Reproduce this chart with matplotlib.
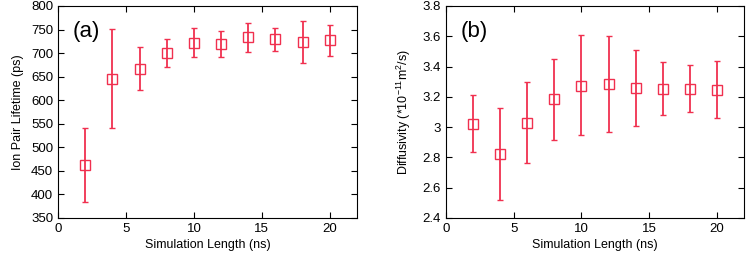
import numpy as np
import matplotlib.pyplot as plt

# simulation lengths (ns)
sim_len = [2, 4, 6, 8, 10, 12, 14, 16, 18, 20]

# (a) ion pair lifetime (ps): mean, lower and upper bar ends
life = [462, 646, 667, 701, 722, 720, 734, 729, 723, 728]
life_lo = [384, 540, 621, 671, 691, 691, 703, 704, 678, 694]
life_hi = [541, 752, 712, 731, 754, 747, 764, 753, 769, 760]

# (b) diffusivity (1e-11 m^2/s)
diff = [3.022, 2.82, 3.028, 3.184, 3.274, 3.284, 3.26, 3.255, 3.253, 3.248]
diff_lo = [2.835, 2.52, 2.762, 2.915, 2.945, 2.965, 3.01, 3.08, 3.10, 3.058]
diff_hi = [3.212, 3.124, 3.295, 3.452, 3.606, 3.605, 3.512, 3.43, 3.408, 3.436]

RED = "#f0304f"

plt.rcParams["font.family"] = ["Liberation Sans", "DejaVu Sans"]
plt.rcParams["mathtext.fontset"] = "custom"
plt.rcParams["mathtext.rm"] = "Liberation Sans"
plt.rcParams["font.size"] = 8

fig = plt.figure(figsize=(7.46, 2.58), dpi=100)
W, H = 746, 258
ax_a = fig.add_axes([58 / W, 1 - 218 / H, (357 - 58) / W, (218 - 6) / H])
ax_b = fig.add_axes([446 / W, 1 - 218 / H, (744 - 446) / W, (218 - 6) / H])


def panel(ax, y, lo, hi):
    y = np.array(y)
    yerr = np.vstack([y - np.array(lo), np.array(hi) - y])
    ax.errorbar(sim_len, y, yerr=yerr, fmt="s", mfc="none", mec=RED,
                ms=6.5, mew=1.0, ecolor=RED, elinewidth=1.3, capsize=2.5,
                capthick=1.3)
    ax.set_xlim(0, 22)
    ax.set_xticks([0, 5, 10, 15, 20])
    ax.tick_params(direction="in", top=True, right=True, length=4,
                   width=0.8, labelsize=9.5)
    ax.set_xlabel("Simulation Length (ns)", fontsize=9, labelpad=3)
    for s in ax.spines.values():
        s.set_linewidth(0.8)


panel(ax_a, life, life_lo, life_hi)
ax_a.set_ylim(350, 800)
ax_a.set_yticks(np.arange(350, 801, 50))
ax_a.set_ylabel("Ion Pair Lifetime (ps)", fontsize=9, labelpad=5)
ax_a.text(0.05, 0.93, "(a)", transform=ax_a.transAxes, fontsize=16,
          va="top", ha="left")

panel(ax_b, diff, diff_lo, diff_hi)
ax_b.set_ylim(2.4, 3.8)
ax_b.set_yticks([2.4, 2.6, 2.8, 3.0, 3.2, 3.4, 3.6, 3.8])
ax_b.set_yticklabels(["2.4", "2.6", "2.8", "3", "3.2", "3.4", "3.6", "3.8"])
ax_b.set_ylabel(r"Diffusivity (*10$^{-11}$m$^2$/s)", fontsize=9, labelpad=7)
ax_b.text(0.05, 0.93, "(b)", transform=ax_b.transAxes, fontsize=16,
          va="top", ha="left")

fig.savefig("out.png", dpi=100)
